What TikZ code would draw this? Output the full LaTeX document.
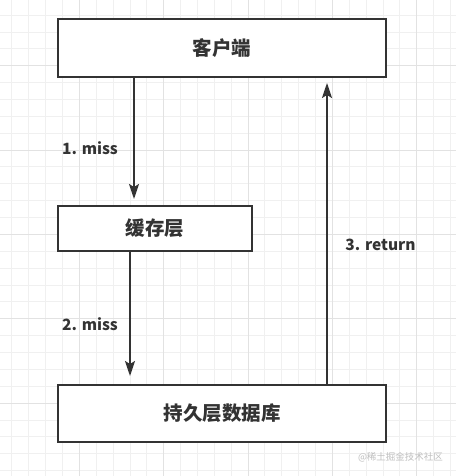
\documentclass[tikz,border=0pt]{standalone}
\usepackage{fontspec}
\setmainfont{Noto Sans CJK SC}
\usetikzlibrary{arrows.meta}
\definecolor{minorgrid}{HTML}{F0F0F0}
\definecolor{majorgrid}{HTML}{E2E2E2}
\definecolor{ink}{HTML}{333333}
\definecolor{wm}{HTML}{BFBFBF}
\begin{document}
\begin{tikzpicture}[x=1pt,y=-1pt,
  boxnode/.style={draw=ink,line width=2pt,fill=white,text=ink,inner sep=0pt,
    font=\fontsize{19.5}{22}\selectfont\bfseries},
  lbl/.style={text=ink,inner sep=0pt,font=\fontsize{15.5}{18}\selectfont\bfseries},
  arr/.style={draw=ink,line width=1.6pt,-{Stealth[length=15pt,width=10pt,inset=3pt]}},
  minorline/.style={draw=minorgrid,line width=0.8pt},
  majorline/.style={draw=majorgrid,line width=0.9pt}]
\useasboundingbox (0,0) rectangle (456,476);
\fill[white] (0,0) rectangle (456,476);
% grid
\foreach \i in {0,...,26} {\draw[minorline] ({11.82+16.87*\i},0) -- ++(0,476);}
\foreach \i in {0,...,27} {\draw[minorline] (0,{15.04+16.87*\i}) -- ++(456,0);}
\foreach \i in {0,...,4} {\draw[majorline] ({79.3+84.35*\i},0) -- ++(0,476);}
\foreach \i in {0,...,4} {\draw[majorline] (0,{65.65+84.35*\i}) -- ++(456,0);}
% boxes
\node[boxnode,minimum width=328pt,minimum height=58pt] (client) at (222,48) {客户端};
\node[boxnode,minimum width=194pt,minimum height=45pt] (cache) at (155,228.5) {缓存层};
\node[boxnode,minimum width=328pt,minimum height=57pt] (db) at (222,413.5) {持久层数据库};
% arrow columns
\coordinate (c1) at (134,0);
\coordinate (c2) at (130,0);
\coordinate (c3) at (327,0);
\draw[arr,shorten >=6pt] (client.south -| c1) -- (cache.north -| c1);
\draw[arr,shorten >=8pt] (cache.south -| c2) -- (db.north -| c2);
\draw[arr,shorten >=5pt] (db.north -| c3) -- (client.south -| c3);
% labels
\node[lbl] (l1) at (90,148.5) {1. miss};
\node[lbl] (l2) at (90,324) {2. miss};
\node[lbl] (l3) at (380.5,245) {3. return};
% watermark
\node[text=wm,inner sep=0pt,font=\fontsize{9.5}{11}\selectfont] (wmk) at (400.5,457.3) {@稀土掘金技术社区};
\end{tikzpicture}
\end{document}
